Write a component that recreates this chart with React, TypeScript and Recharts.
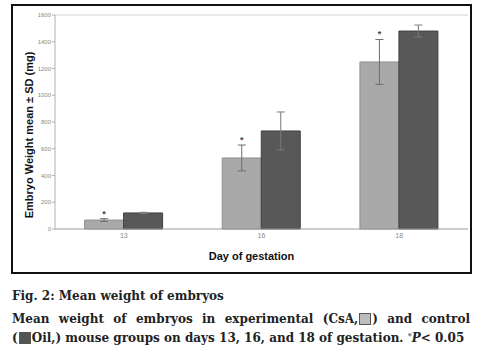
import React from 'react';
import { BarChart, Bar, XAxis, YAxis, ErrorBar, LabelList, ReferenceLine, Label } from 'recharts';

const days = ['13', '16', '18'];
const csaMean = [67, 531, 1249];
const csaSd = [10, 97, 168];
const oilMean = [120, 733, 1480];
const oilSd = [5, 142, 45];
const yTicks = [0, 200, 400, 600, 800, 1000, 1200, 1400, 1600];

const data = days.map((day, i) => ({
  day,
  csa: csaMean[i],
  csaSd: csaSd[i],
  oil: oilMean[i],
  oilSd: oilSd[i],
}));

const CSA_FILL = '#a9a9a9';
const OIL_FILL = '#585858';

// asterisk sits just above the CsA error bar; pixel-per-mg taken from the bar itself
function Star(props: any) {
  const { x, y, width, height, value, index } = props;
  const v = Number(value);
  if (!v) return null;
  const ppu = height / v;
  const top = y - csaSd[index] * ppu;
  return (
    <text x={x + width / 2} y={top - 2} textAnchor="middle" fontSize={9} fontWeight="bold" fill="#444" fontFamily="Liberation Sans, Arial">
      *
    </text>
  );
}

function YTitle(props: any) {
  const { viewBox } = props;
  const cy = viewBox.y + viewBox.height / 2 + 13;
  return (
    <text transform={`translate(33,${cy}) rotate(-90)`} textAnchor="middle" fontSize={11} fontWeight="bold" fill="#111" fontFamily="Liberation Sans, Arial">
      Embryo Weight mean ± SD (mg)
    </text>
  );
}

function XTitle(props: any) {
  const { viewBox } = props;
  return (
    <text x={viewBox.x + viewBox.width / 2 - 10} y={260} textAnchor="middle" fontSize={11} fontWeight="bold" fill="#111" fontFamily="Liberation Sans, Arial">
      Day of gestation
    </text>
  );
}

const capStyle: React.CSSProperties = {
  position: 'absolute',
  left: 12,
  width: 458,
  height: 17,
  lineHeight: '17px',
  fontFamily: 'DejaVu Serif, serif',
  fontWeight: 'bold',
  fontSize: 12,
  color: '#222',
  whiteSpace: 'nowrap',
};

const boxStyle = (fill: string): React.CSSProperties => ({
  display: 'inline-block',
  width: 12,
  height: 12,
  background: fill,
  border: '1px solid #555',
  boxSizing: 'border-box',
  verticalAlign: '-2px',
  margin: '0 1px',
});

export default function App() {
  return (
    <div style={{ position: 'absolute', left: 0, top: 0, width: 481, height: 352, background: '#fff' }}>
      <div style={{ position: 'absolute', left: 11, top: 4, width: 461, height: 270, border: '2px solid #111', boxSizing: 'border-box' }} />
      <div style={{ position: 'absolute', left: 0, top: 0 }}>
        <BarChart width={481} height={280} data={data} margin={{ top: 15, right: 13, left: 0, bottom: 31 }} barCategoryGap="21.5%" barGap={0}>
          <ReferenceLine y={1600} stroke="#d4d4d4" />
          <XAxis
            dataKey="day"
            height={20}
            stroke="#9a9a9a"
            tickLine={false}
            tickSize={2}
            tickMargin={2}
            tick={{ fontSize: 7, fill: '#888', fontFamily: 'Liberation Sans, Arial' }}
          >
            <Label content={<XTitle />} />
          </XAxis>
          <YAxis
            width={55}
            domain={[0, 1600]}
            ticks={yTicks}
            stroke="#b0b0b0"
            tickSize={3}
            tickMargin={1}
            tick={{ fontSize: 6, fill: '#888', fontFamily: 'Liberation Sans, Arial' }}
          >
            <Label content={<YTitle />} />
          </YAxis>
          <Bar dataKey="csa" fill={CSA_FILL} stroke="#8f8f8f" strokeWidth={1} isAnimationActive={false}>
            <ErrorBar dataKey="csaSd" width={4} stroke="#6e6e6e" strokeWidth={1} direction="y" />
            <LabelList dataKey="csa" content={<Star />} />
          </Bar>
          <Bar dataKey="oil" fill={OIL_FILL} stroke="#404040" strokeWidth={1} isAnimationActive={false}>
            <ErrorBar dataKey="oilSd" width={4} stroke="#7a7a7a" strokeWidth={1} direction="y" />
          </Bar>
        </BarChart>
      </div>
      <div style={{ ...capStyle, top: 288 }}>Fig. 2: Mean weight of embryos</div>
      <div style={{ ...capStyle, top: 311, textAlign: 'justify', textAlignLast: 'justify' }}>
        Mean weight of embryos in experimental (CsA,<span style={boxStyle('#bdbdbd')} />) and control
      </div>
      <div style={{ ...capStyle, top: 328 }}>
        (<span style={boxStyle('#555')} />Oil,) mouse groups on days 13, 16, and 18 of gestation.{' '}
        <span style={{ fontSize: 8, verticalAlign: '3px', fontWeight: 'normal' }}>*</span>
        <i>P</i>&lt; 0.05
      </div>
    </div>
  );
}
